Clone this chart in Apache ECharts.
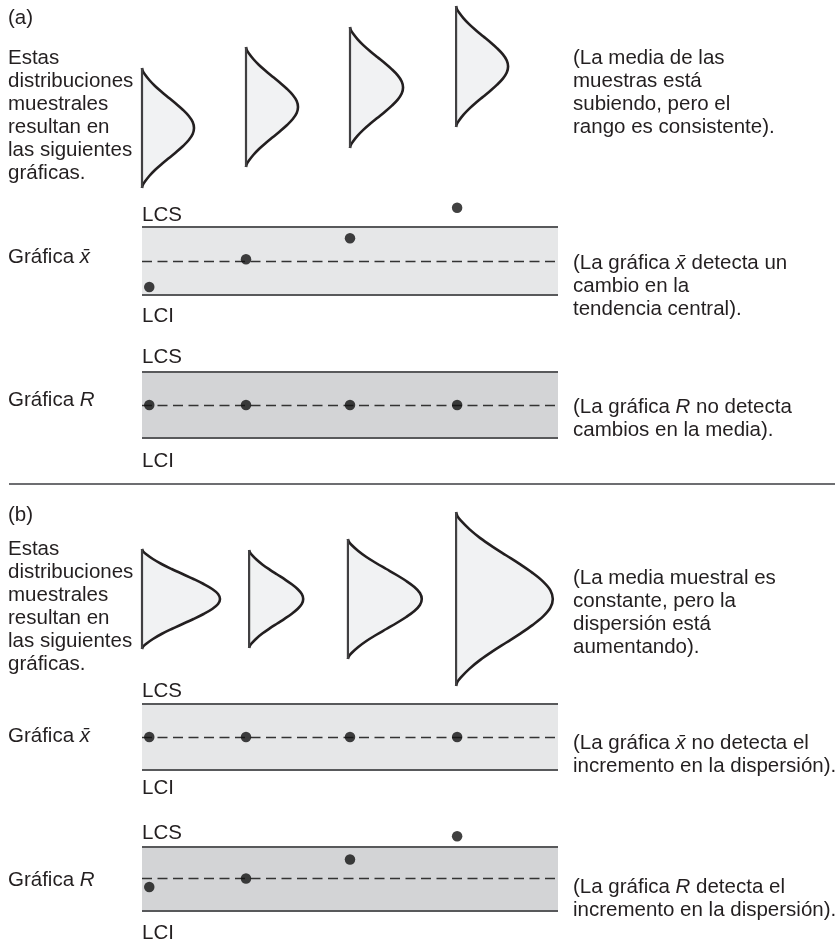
<!DOCTYPE html>
<html><head><meta charset="utf-8">
<script src="https://cdn.jsdelivr.net/npm/echarts@6/dist/echarts.min.js"></script>
<style>html,body{margin:0;padding:0;background:#fff}#c{width:835px;height:942px}</style>
</head><body><div id="c"></div>
<script>
// ---------- data ----------
// sample positions along the time axis (shared by all control charts)
const sampleX = [0.07, 1.0, 2.0, 3.03];
// control limits / center (in sigma units)
const limitLCS = 3, limitLCI = -3, centerLine = 0;
// panel (a) control chart points
const xbarA = [-2.3, 0.15, 2.0, 4.7];
const rangeA = [0, 0, 0, 0];
// panel (b) control chart points
const xbarB = [0, 0, 0, 0];
const rangeB = [-0.8, 0, 1.8, 4.0];
// sampling distributions: baseline position, mean, half height, peak width
const distBaseA = [0, 1.0, 2.0, 3.02];
const distMeanA = [7.2, 9.3, 11.25, 13.35];
const distHalfA = [6.0, 6.0, 6.05, 6.05];
const distWidthA = [0.5, 0.5, 0.51, 0.5];
const distBaseB = [0, 1.03, 1.98, 3.02];
const distMeanB = [8.5, 8.5, 8.5, 8.5];
const distHalfB = [5.0, 4.9, 6.0, 8.7];
const distWidthB = [0.75, 0.52, 0.71, 0.93];
const processMeanB = 8.5;
// bell outline (relative height -> relative width)
const bellT = [0, 0.1, 0.2, 0.3, 0.4, 0.5, 0.6, 0.7, 0.8, 0.9, 0.95, 1.0];
const bellW = [1, 0.975, 0.9, 0.79, 0.66, 0.52, 0.38, 0.25, 0.14, 0.05, 0.015, 0];
// texts
const leftBlock = ['Estas', 'distribuciones', 'muestrales', 'resultan en', 'las siguientes', 'gráficas.'];
const noteA = ['(La media de las', 'muestras está', 'subiendo, pero el', 'rango es consistente).'];
const noteXbarA = ['(La gráfica {i|x\u0304} detecta un', 'cambio en la', 'tendencia central).'];
const noteRA = ['(La gráfica {i|R} no detecta', 'cambios en la media).'];
const noteB = ['(La media muestral es', 'constante, pero la', 'dispersión está', 'aumentando).'];
const noteXbarB = ['(La gráfica {i|x\u0304} no detecta el', 'incremento en la dispersión).'];
const noteRB = ['(La gráfica {i|R} detecta el', 'incremento en la dispersión).'];

// ---------- styles ----------
const FONT = '"Liberation Sans", Arial, Helvetica, sans-serif';
const FS = 20.5, LH = 23, TXT = '#231f20';
const BAND_X = '#e6e7e8', BAND_R = '#d3d4d6', EDGE = '#58595b', CURVE_FILL = '#f1f2f3';

const chart = echarts.init(document.getElementById('c'), null, {renderer: 'canvas'});

function grid(top, height) { return {left: 142, width: 416, top: top, height: height, show: false}; }
const grids = [grid(0, 200), grid(193, 136), grid(339, 132), grid(484, 200), grid(671, 132), grid(815, 134)];
const xAxes = grids.map((g, i) => ({gridIndex: i, type: 'value', min: 0, max: 4, show: false}));
const yAxes = grids.map((g, i) => (i === 0 || i === 3)
  ? {gridIndex: i, type: 'value', min: 0, max: 20, show: false}
  : {gridIndex: i, type: 'value', min: -6, max: 6, show: false});

function bellData(base, mean, half, width) {
  return base.map((b, i) => [b, mean[i], half[i], width[i]]);
}
function renderBell(params, api) {
  const base = api.value(0), mean = api.value(1), half = api.value(2), w = api.value(3);
  const pts = [];
  for (let k = bellT.length - 1; k >= 0; k--) pts.push(api.coord([base + w * bellW[k], mean + bellT[k] * half]));
  for (let k = 1; k < bellT.length; k++) pts.push(api.coord([base + w * bellW[k], mean - bellT[k] * half]));
  const top = api.coord([base, mean + half]), bot = api.coord([base, mean - half]);
  return {type: 'group', children: [
    {type: 'polyline', shape: {points: pts, smooth: 0.35}, style: {fill: CURVE_FILL, stroke: '#231f20', lineWidth: 2.6}},
    {type: 'line', shape: {x1: top[0], y1: top[1], x2: bot[0], y2: bot[1]}, style: {stroke: '#414042', lineWidth: 2.2}}
  ]};
}
function bellSeries(idx, data, extra) {
  return Object.assign({type: 'custom', xAxisIndex: idx, yAxisIndex: idx, data: data, renderItem: renderBell,
    clip: false, silent: true, z: 2}, extra || {});
}
function controlSeries(idx, values, bandColor) {
  return {
    type: 'scatter', xAxisIndex: idx, yAxisIndex: idx, silent: true, z: 4,
    symbol: 'circle', symbolSize: 10.5, itemStyle: {color: '#111'},
    data: values.map((v, i) => [sampleX[i], v]), clip: false,
    markArea: {silent: true, z: 1, itemStyle: {color: bandColor}, data: [[{yAxis: limitLCI}, {yAxis: limitLCS}]]},
    markLine: {silent: true, z: 3, symbol: 'none', label: {show: false}, emphasis: {disabled: true},
      data: [
        {yAxis: limitLCS, lineStyle: {color: EDGE, width: 2, type: 'solid'}},
        {yAxis: limitLCI, lineStyle: {color: EDGE, width: 2, type: 'solid'}},
        {yAxis: centerLine, lineStyle: {color: '#333', width: 1.3, type: [10, 5.5]}}
      ]}
  };
}

// text helpers
const richStyles = {
  i: {fontStyle: 'italic', fontSize: FS, fontFamily: FONT, fill: TXT, lineHeight: LH}
};
function txt(x, yCenter, lines) {
  return {type: 'text', x: x, y: yCenter - LH / 2, silent: true, z: 10,
    style: {text: lines.join('\n'), fontSize: FS, fontFamily: FONT, fill: TXT, lineHeight: LH,
      align: 'left', verticalAlign: 'top', rich: richStyles}};
}
const graphics = [
  txt(8, 18, ['(a)']),
  txt(8, 58.3, leftBlock),
  txt(573, 58.3, noteA),
  txt(142, 215, ['LCS']), txt(142, 316, ['LCI']),
  txt(142, 357, ['LCS']), txt(142, 461, ['LCI']),
  txt(8, 257, ['Gráfica {i|x\u0304}']), txt(8, 400, ['Gráfica {i|R}']),
  txt(573, 263, noteXbarA), txt(573, 407, noteRA),
  {type: 'line', silent: true, shape: {x1: 9, y1: 484, x2: 835, y2: 484}, style: {stroke: '#6d6e71', lineWidth: 2}},
  txt(8, 515, ['(b)']),
  txt(8, 549.5, leftBlock),
  txt(573, 578, noteB),
  txt(142, 691, ['LCS']), txt(142, 788, ['LCI']),
  txt(142, 833, ['LCS']), txt(142, 933, ['LCI']),
  txt(8, 736, ['Gráfica {i|x\u0304}']), txt(8, 880, ['Gráfica {i|R}']),
  txt(573, 743, noteXbarB), txt(573, 887, noteRB)
];

chart.setOption({
  animation: false,
  backgroundColor: '#ffffff',
  grid: grids, xAxis: xAxes, yAxis: yAxes,
  series: [
    bellSeries(0, bellData(distBaseA, distMeanA, distHalfA, distWidthA)),
    bellSeries(3, bellData(distBaseB, distMeanB, distHalfB, distWidthB), {
      markLine: {silent: true, z: 5, symbol: 'none', label: {show: false}, emphasis: {disabled: true},
        lineStyle: {color: '#231f20', width: 1.3, type: 'solid'},
        data: [[{coord: [0, processMeanB]}, {coord: [4.05, processMeanB]}]]}
    }),
    controlSeries(1, xbarA, BAND_X),
    controlSeries(2, rangeA, BAND_R),
    controlSeries(4, xbarB, BAND_X),
    controlSeries(5, rangeB, BAND_R)
  ],
  graphic: graphics
});
</script></body></html>
